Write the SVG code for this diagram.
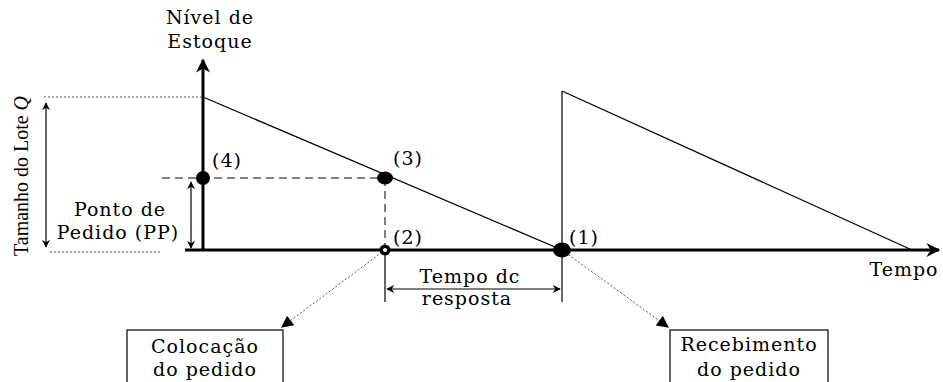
<svg xmlns="http://www.w3.org/2000/svg" width="943" height="382" viewBox="0 0 943 382">
<defs>
<marker id="ah" viewBox="0 0 10 10" refX="9" refY="5" markerWidth="8" markerHeight="8" markerUnits="userSpaceOnUse" orient="auto-start-reverse"><path d="M0,0 L10,5 L0,10 L3,5 Z" fill="#000"/></marker>
<marker id="ahBig" viewBox="0 0 10 10" refX="9" refY="5" markerWidth="16" markerHeight="14" markerUnits="userSpaceOnUse" orient="auto"><path d="M0,0 L10,5 L0,10 L3,5 Z" fill="#000"/></marker>
<marker id="ahDot" viewBox="0 0 10 10" refX="9" refY="5" markerWidth="14" markerHeight="12" markerUnits="userSpaceOnUse" orient="auto"><path d="M0,0 L10,5 L0,10 Z" fill="#000"/></marker>
</defs>
<style>
.t{font-family:"DejaVu Serif","Liberation Serif",serif;font-size:19px;letter-spacing:1px;fill:#000}
.tm{font-family:"Liberation Serif",serif;font-size:22px;fill:#000}
.ax{stroke:#000;stroke-width:3;fill:none}
.ln{stroke:#000;stroke-width:1.2;fill:none}
.dash{stroke:#000;stroke-width:1;stroke-dasharray:8,5;fill:none}
.dot{stroke:#555;stroke-width:1;stroke-dasharray:2,2;fill:none}
.dim{stroke:#000;stroke-width:1.2;fill:none}
.box{fill:#fff;stroke:#000;stroke-width:1.2}
</style>
<rect width="943" height="382" fill="#fff"/>

<g id="connectors">
  <line class="ax" x1="203" y1="251" x2="203" y2="60" marker-end="url(#ahBig)"/>
  <line class="ax" x1="185" y1="250" x2="939" y2="250" marker-end="url(#ahBig)"/>
  <line class="ln" x1="203" y1="97" x2="562" y2="250"/>
  <line class="ln" x1="562" y1="250" x2="562" y2="91"/>
  <line class="ln" x1="562" y1="91" x2="912" y2="250"/>
  <line class="dot" x1="44" y1="97" x2="203" y2="97"/>
  <line class="dot" x1="50" y1="252" x2="162" y2="252"/>
  <line class="dash" x1="162" y1="178" x2="385" y2="178"/>
  <line class="dash" x1="385" y1="178" x2="385" y2="250"/>
  <line class="dim" x1="46" y1="103" x2="46" y2="247" marker-start="url(#ah)" marker-end="url(#ah)"/>
  <line class="dim" x1="191" y1="182" x2="191" y2="248" marker-start="url(#ah)" marker-end="url(#ah)"/>
  <line class="ln" x1="385" y1="250" x2="385" y2="302"/>
  <line class="ln" x1="562" y1="250" x2="562" y2="302"/>
  <line class="dim" x1="387" y1="289" x2="560" y2="289" marker-start="url(#ah)" marker-end="url(#ah)"/>
  <line class="dot" x1="385" y1="250" x2="282" y2="327" marker-end="url(#ahDot)"/>
  <line class="dot" x1="562" y1="250" x2="668" y2="327" marker-end="url(#ahDot)"/>
</g>

<g id="axis-labels">
  <text class="t" x="210" y="24" text-anchor="middle">Nível de</text>
  <text class="t" x="210" y="48" text-anchor="middle">Estoque</text>
  <text class="t" x="904" y="276" text-anchor="middle">Tempo</text>
  <text class="tm" transform="translate(28,176) rotate(-90)" text-anchor="middle" textLength="160" lengthAdjust="spacingAndGlyphs">Tamanho do Lote <tspan font-style="italic">Q</tspan></text>
  <text class="t" x="120" y="216" text-anchor="middle">Ponto de</text>
  <text class="t" x="118" y="239" text-anchor="middle">Pedido (PP)</text>
  <text class="t" x="470" y="283" text-anchor="middle">Tempo dc</text>
  <text class="t" x="467" y="305" text-anchor="middle">resposta</text>
</g>

<g id="p4">
  <circle cx="203" cy="178" r="7" fill="#000"/>
  <text class="t" x="212" y="167">(4)</text>
</g>
<g id="p3">
  <ellipse cx="385" cy="178" rx="8" ry="6.5" fill="#000"/>
  <text class="t" x="393" y="165">(3)</text>
</g>
<g id="p2">
  <circle cx="385" cy="250" r="5.5" fill="#000"/>
  <circle cx="385" cy="250" r="2" fill="#fff"/>
  <text class="t" x="393" y="244">(2)</text>
</g>
<g id="p1">
  <ellipse cx="562" cy="250" rx="9" ry="7.5" fill="#000"/>
  <text class="t" x="569" y="244">(1)</text>
</g>

<g id="box-colocacao">
  <rect class="box" x="127" y="330" width="156" height="56"/>
  <text class="t" x="205" y="353" text-anchor="middle">Colocação</text>
  <text class="t" x="205" y="376" text-anchor="middle">do pedido</text>
</g>
<g id="box-recebimento">
  <rect class="box" x="670" y="330" width="158" height="56"/>
  <text class="t" x="749" y="351" text-anchor="middle">Recebimento</text>
  <text class="t" x="749" y="376" text-anchor="middle">do pedido</text>
</g>
</svg>
